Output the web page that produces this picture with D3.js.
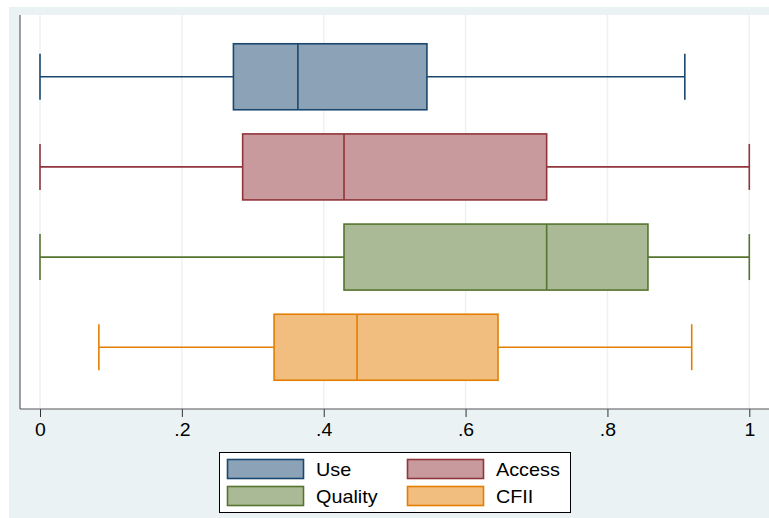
<!DOCTYPE html>
<html>
<head>
<meta charset="utf-8">
<script src="https://cdn.jsdelivr.net/npm/d3@7"></script>
<style>
  body { margin: 0; background: #fff; }
  text { font-family: "Liberation Sans", Arial, sans-serif; }
</style>
</head>
<body>
<div id="chart"></div>
<script>
// chart values
var categories = ["Use", "Access", "Quality", "CFII"];
var lowWhisker = [0, 0, 0, 0.083];
var q1 = [0.2727, 0.2857, 0.4286, 0.33];
var medians = [0.3636, 0.4286, 0.7143, 0.447];
var q3 = [0.5455, 0.7143, 0.8571, 0.6457];
var highWhisker = [0.9091, 1, 1, 0.9188];
var tickValues = [0, 0.2, 0.4, 0.6, 0.8, 1];
var tickLabels = ["0", ".2", ".4", ".6", ".8", "1"];

var strokeColors = ["#1a476f", "#90353b", "#55752f", "#e37e00"];
var fillColors = ["#8ca3b7", "#c89a9d", "#aaba97", "#f1be7f"];

var svgWidth = 769;
var svgHeight = 518;

var plot = { left: 20, top: 15, right: 769, bottom: 409 };

var svg = d3.select("#chart")
  .append("svg")
  .attr("width", svgWidth)
  .attr("height", svgHeight);

// outer background
svg.append("rect")
  .attr("x", 9).attr("y", 7)
  .attr("width", svgWidth - 9).attr("height", svgHeight - 7)
  .attr("fill", "#eaf2f3");

svg.append("rect")
  .attr("x", plot.left).attr("y", plot.top)
  .attr("width", plot.right - plot.left).attr("height", plot.bottom - plot.top)
  .attr("fill", "#ffffff");

var xScale = d3.scaleLinear()
  .domain([0, 1])
  .range([40, 749.3]);

var yScale = d3.scaleBand()
  .domain(categories)
  .range([plot.top, plot.bottom])
  .paddingInner(0.25)
  .paddingOuter(0.31);

// grid lines
svg.append("g").selectAll("line")
  .data(tickValues)
  .enter()
  .append("line")
  .attr("x1", d => xScale(d)).attr("x2", d => xScale(d))
  .attr("y1", plot.top).attr("y2", plot.bottom)
  .attr("stroke", "#eaf2f3")
  .attr("stroke-width", 1.5);

var data = categories.map(function(c, i) {
  return { name: c, lo: lowWhisker[i], q1: q1[i], med: medians[i], q3: q3[i], hi: highWhisker[i],
    stroke: strokeColors[i], fill: fillColors[i] };
});

var boxH = 66;
var capH = 46;

var boxes = svg.append("g").selectAll("g")
  .data(data)
  .enter()
  .append("g")
  .attr("transform", d => `translate(0, ${yScale(d.name) + yScale.bandwidth() / 2})`);

boxes.append("line")
  .attr("x1", d => xScale(d.lo)).attr("x2", d => xScale(d.q1))
  .attr("y1", 0).attr("y2", 0)
  .attr("stroke", d => d.stroke).attr("stroke-width", 1.6);

boxes.append("line")
  .attr("x1", d => xScale(d.q3)).attr("x2", d => xScale(d.hi))
  .attr("y1", 0).attr("y2", 0)
  .attr("stroke", d => d.stroke).attr("stroke-width", 1.6);

boxes.append("line")
  .attr("x1", d => xScale(d.lo)).attr("x2", d => xScale(d.lo))
  .attr("y1", -capH / 2).attr("y2", capH / 2)
  .attr("stroke", d => d.stroke).attr("stroke-width", 1.6);

boxes.append("line")
  .attr("x1", d => xScale(d.hi)).attr("x2", d => xScale(d.hi))
  .attr("y1", -capH / 2).attr("y2", capH / 2)
  .attr("stroke", d => d.stroke).attr("stroke-width", 1.6);

boxes.append("rect")
  .attr("x", d => xScale(d.q1))
  .attr("width", d => xScale(d.q3) - xScale(d.q1))
  .attr("y", -boxH / 2).attr("height", boxH)
  .attr("fill", d => d.fill)
  .attr("stroke", d => d.stroke).attr("stroke-width", 1.6);

boxes.append("line")
  .attr("x1", d => xScale(d.med)).attr("x2", d => xScale(d.med))
  .attr("y1", -boxH / 2).attr("y2", boxH / 2)
  .attr("stroke", d => d.stroke).attr("stroke-width", 1.6);

// axes lines
svg.append("line")
  .attr("x1", plot.left).attr("x2", plot.left)
  .attr("y1", plot.top).attr("y2", plot.bottom)
  .attr("stroke", "#7f7f7f").attr("stroke-width", 1.5);

var xAxis = d3.axisBottom(xScale)
  .tickValues(tickValues)
  .tickFormat((d, i) => tickLabels[i])
  .tickSize(8)
  .tickPadding(6)
  .tickSizeOuter(0);

var axisG = svg.append("g")
  .attr("transform", `translate(0, ${plot.bottom})`)
  .call(xAxis);

axisG.select(".domain").remove();
axisG.append("line")
  .attr("x1", plot.left).attr("x2", plot.right)
  .attr("y1", 0).attr("y2", 0)
  .attr("stroke", "#555").attr("stroke-width", 1.2);
axisG.selectAll(".tick line").attr("stroke", "#333").attr("stroke-width", 1);
axisG.selectAll(".tick text")
  .attr("font-size", 18)
  .attr("transform", "scale(1.08,1)")
  .attr("font-family", "Liberation Sans, Arial, sans-serif")
  .attr("fill", "#000");

// legend
var legend = svg.append("g");
legend.append("rect")
  .attr("x", 219.5).attr("y", 452.5)
  .attr("width", 351).attr("height", 60)
  .attr("fill", "#fff")
  .attr("stroke", "#000").attr("stroke-width", 1);

var legX = [227, 407];
var legY = [459, 486];

var items = legend.selectAll("g.item")
  .data(data)
  .enter()
  .append("g")
  .attr("class", "item")
  .attr("transform", (d, i) => `translate(${legX[i % 2]}, ${legY[Math.floor(i / 2)]})`);

items.append("rect")
  .attr("x", 0.5).attr("y", 0.5)
  .attr("width", 76).attr("height", 19)
  .attr("fill", d => d.fill)
  .attr("stroke", d => d.stroke).attr("stroke-width", 1.6);

items.append("text")
  .attr("transform", "translate(89, 16.5) scale(1.1,1)")
  .attr("font-size", 18)
  .attr("fill", "#000")
  .text(d => d.name);
</script>
</body>
</html>
